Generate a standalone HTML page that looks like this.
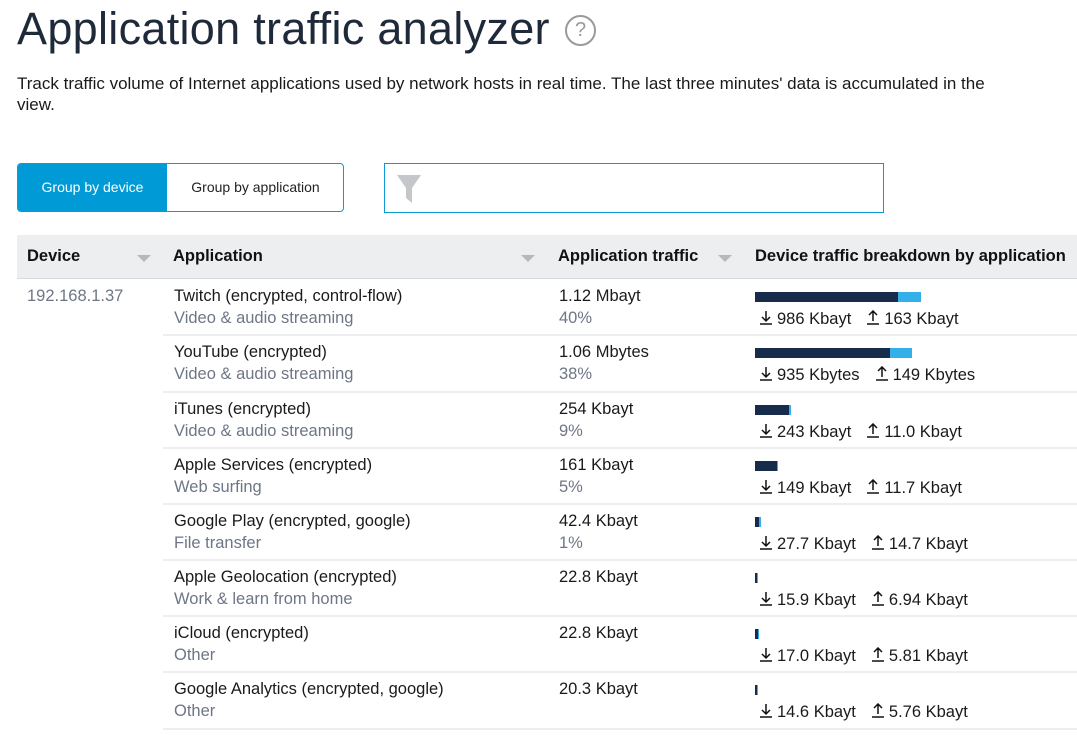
<!DOCTYPE html>
<html><head><meta charset="utf-8"><style>
*{margin:0;padding:0;box-sizing:border-box}
body{width:1077px;height:735px;background:#fff;font-family:"Liberation Sans",sans-serif;color:#1a1a1a;position:relative;overflow:hidden}
.a{position:absolute;white-space:nowrap}
h1{position:absolute;left:17px;top:3px;font-weight:400;font-size:45px;color:#1e2a3a;letter-spacing:0.3px}
.help{position:absolute;left:565px;top:15px;width:31px;height:31px;border:2px solid #9a9a9a;border-radius:50%;color:#9a9a9a;font-size:20px;text-align:center;line-height:27px}
.desc{position:absolute;left:17px;top:73px;font-size:17px;line-height:21px;width:1040px;color:#1a1a1a}
.seg{position:absolute;left:17px;top:163px;width:327px;height:49px;border:1px solid #0a9ad6;border-radius:4px;overflow:hidden;font-size:14px}
.seg .on{position:absolute;left:0;top:0;width:149px;height:100%;background:#009bd6;color:#fff;text-align:center;line-height:47px}
.seg .off{position:absolute;left:149px;top:0;width:177px;height:100%;text-align:center;line-height:47px;color:#222}
.filter{position:absolute;left:384px;top:163px;width:500px;height:50px;border:1px solid #0a9ad6}
.hdr{position:absolute;left:17px;top:235px;width:1060px;height:44px;background:#edeef0;border-bottom:1px solid #d8dbe0}
.hdr span{position:absolute;top:12px;font-weight:700;font-size:16.5px;color:#111}
.tri{position:absolute;top:20px;width:0;height:0;border-left:7px solid transparent;border-right:7px solid transparent;border-top:7px solid #b8b8b8}
.row{position:absolute;left:163px;width:914px;border-bottom:2px solid #eceef0}
.t1{position:absolute;font-size:16.5px;color:#1a1a1a}
.t2{position:absolute;font-size:16.5px;color:#6e7686}
.bar{position:absolute;height:10px}
.d{background:#172c4b}.u{background:#33b0ea}
svg.ar{vertical-align:-1px;margin-right:5px}
</style></head><body>
<h1>Application traffic analyzer</h1>
<div class="help">?</div>
<div class="desc">Track traffic volume of Internet applications used by network hosts in real time. The last three minutes' data is accumulated in the<br>view.</div>
<div class="seg"><div class="on">Group by device</div><div class="off">Group by application</div></div>
<div class="filter"><svg style="position:absolute;left:11px;top:10px" width="26" height="30" viewBox="0 0 26 30"><path d="M1 1H25L16 14V29L10 24V14Z" fill="#c4c6ca"/></svg></div>
<div class="hdr">
<span style="left:10px">Device</span><div class="tri" style="left:120px"></div>
<span style="left:156px">Application</span><div class="tri" style="left:504px"></div>
<span style="left:541px">Application traffic</span><div class="tri" style="left:701px"></div>
<span style="left:738px">Device traffic breakdown by application</span>
</div>
<div class="a t2" style="left:27px;top:287px">192.168.1.37</div>
<div id="rows"></div>
<script>
var D=[["Twitch (encrypted, control-flow)","Video &amp; audio streaming","1.12 Mbayt","40%",143,23,"986 Kbayt","163 Kbayt"],
["YouTube (encrypted)","Video &amp; audio streaming","1.06 Mbytes","38%",135,22,"935 Kbytes","149 Kbytes"],
["iTunes (encrypted)","Video &amp; audio streaming","254 Kbayt","9%",34,2,"243 Kbayt","11.0 Kbayt"],
["Apple Services (encrypted)","Web surfing","161 Kbayt","5%",22,1,"149 Kbayt","11.7 Kbayt"],
["Google Play (encrypted, google)","File transfer","42.4 Kbayt","1%",4,2,"27.7 Kbayt","14.7 Kbayt"],
["Apple Geolocation (encrypted)","Work &amp; learn from home","22.8 Kbayt","",2,1,"15.9 Kbayt","6.94 Kbayt"],
["iCloud (encrypted)","Other","22.8 Kbayt","",3,1,"17.0 Kbayt","5.81 Kbayt"],
["Google Analytics (encrypted, google)","Other","20.3 Kbayt","",2,1,"14.6 Kbayt","5.76 Kbayt"]];
var tops=[280,336,393,449,505,561,617,673],h="";
var dn='<svg class="ar" width="12" height="15" viewBox="0 0 12 15"><path d="M6 1V11M2 7L6 11L10 7M0 14H12" stroke="#111" stroke-width="1.5" fill="none"/></svg>';
var up='<svg class="ar" width="12" height="15" viewBox="0 0 12 15"><path d="M6 11V1M2 5L6 1L10 5M0 14H12" stroke="#111" stroke-width="1.5" fill="none"/></svg>';
D.forEach(function(r,i){var t=tops[i];
h+='<div class="row" style="top:'+t+'px;height:'+((tops[i+1]||730)-t)+'px"></div>';
h+='<div class="a t1" style="left:174px;top:'+(t+7)+'px">'+r[0]+'</div>';
h+='<div class="a t2" style="left:174px;top:'+(t+29)+'px">'+r[1]+'</div>';
h+='<div class="a t1" style="left:559px;top:'+(t+7)+'px">'+r[2]+'</div>';
h+='<div class="a t2" style="left:559px;top:'+(t+29)+'px">'+r[3]+'</div>';
h+='<div class="bar d" style="left:755px;top:'+(t+12)+'px;width:'+r[4]+'px"></div>';
h+='<div class="bar u" style="left:'+(755+r[4])+'px;top:'+(t+12)+'px;width:'+r[5]+'px"></div>';
h+='<div class="a t1" style="left:760px;top:'+(t+30)+'px">'+dn+r[6]+'<span style="display:inline-block;width:16px"></span>'+up+r[7]+'</div>';
});
document.getElementById('rows').innerHTML=h;
</script>
</body></html>
